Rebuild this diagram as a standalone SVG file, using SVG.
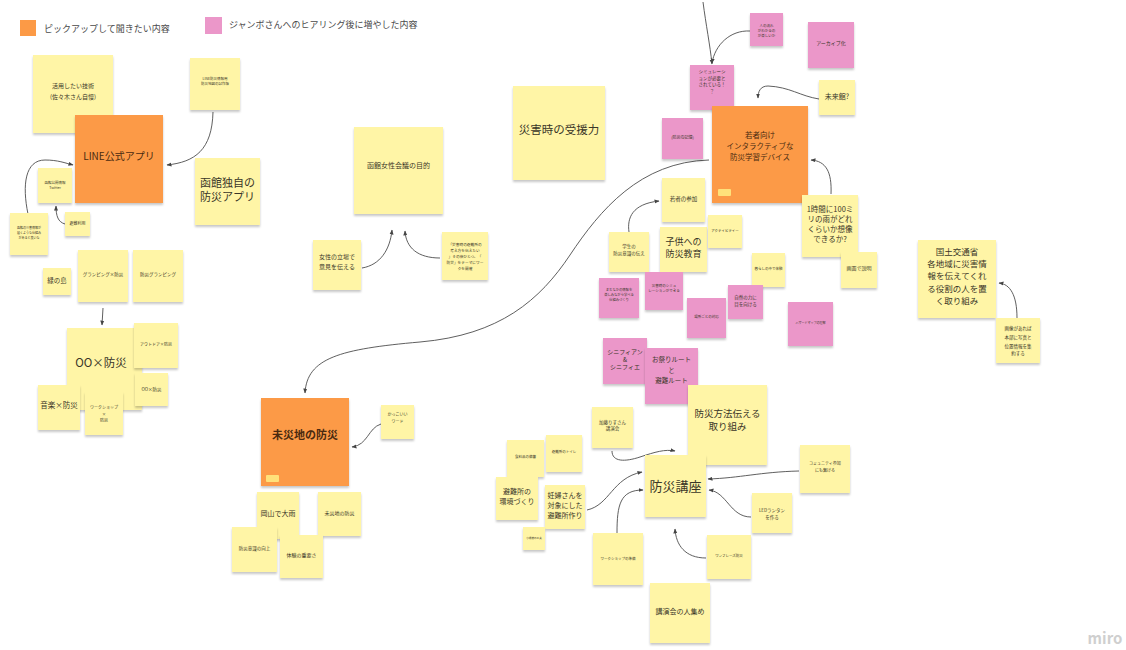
<svg xmlns="http://www.w3.org/2000/svg" width="1126" height="650" viewBox="0 0 1126 650">
<style>
text{font-family:"Noto Sans CJK JP","Noto Sans",sans-serif;fill:#3a3628;text-anchor:middle}
.y{fill:#fff5a6;filter:url(#sh)}
.o{fill:#fc9a46;filter:url(#sh)}
.p{fill:#eb97c9;filter:url(#sh)}
.ot{fill:#4a2a10}
.lg{text-anchor:start;fill:#4a4a4a;font-size:9px}
.c{fill:none;stroke:#4d4d4d;stroke-width:0.9;marker-end:url(#ah)}
.th{fill:#ffe17a}
</style>
<defs>
<filter id="sh" x="-10%" y="-10%" width="120%" height="130%"><feDropShadow dx="0" dy="2" stdDeviation="1.3" flood-color="#000" flood-opacity="0.22"/></filter>
<marker id="ah" viewBox="0 0 10 10" refX="9" refY="5" markerWidth="5" markerHeight="5" markerUnits="userSpaceOnUse" orient="auto"><path d="M0,1 L10,5 L0,9 z" fill="#444"/></marker>
</defs>
<rect width="1126" height="650" fill="#ffffff"/>

<g id="legend">
<rect x="20" y="20" width="16" height="16" fill="#fc9a46"/>
<text class="lg" x="44" y="32">ピックアップして聞きたい内容</text>
<rect x="205" y="17" width="17" height="17" fill="#eb97c9"/>
<text class="lg" x="229" y="28">ジャンボさんへのヒアリング後に増やした内容</text>
</g>

<g id="connectors">
<path class="c" d="M213,112 C212,150 195,162 167,165"/>
<path class="c" d="M28,214 C22,185 25,160 45,160 C58,160 65,163 73,165"/>
<path class="c" d="M65,224 C58,222 56,216 56,206"/>
<path class="c" d="M103,308 L102,325"/>
<path class="c" d="M362,268 C380,265 390,250 392,230"/>
<path class="c" d="M440,258 C418,258 406,248 405,231"/>
<path class="c" d="M709,160 C640,162 600,210 570,255 C540,300 500,335 420,342 C340,349 307,358 305,393"/>
<path class="c" d="M381,424 C368,428 368,445 352,447"/>
<path class="c" d="M703,2 C706,25 710,45 712,64"/>
<path class="c" d="M750,31 C730,30 715,45 712,63"/>
<path class="c" d="M819,99 C800,96 790,87 768,86 C760,86 758,92 758,98"/>
<path class="c" d="M831,194 C832,172 826,161 811,160"/>
<path class="c" d="M629,232 C627,218 632,204 659,201"/>
<path class="c" d="M612,451 C612,462 625,462 640,457 C655,452 665,449 675,451"/>
<path class="c" d="M587,510 C610,505 612,478 642,472"/>
<path class="c" d="M617,533 C617,505 620,490 643,490"/>
<path class="c" d="M799,471 C760,472 740,478 708,479"/>
<path class="c" d="M751,517 C730,517 727,492 709,490"/>
<path class="c" d="M706,558 C685,558 676,545 675,529"/>
<path class="c" d="M1017,318 C1017,295 1010,284 999,283"/>
</g>

<g id="n_katsuyo"><rect class="y" x="33" y="55" width="80" height="78"/><text font-size="6" x="73" y="88">活用したい技術</text><text font-size="6" x="73" y="99">(佐々木さん自慢)</text></g>
<g id="n_line_info"><rect class="y" x="190" y="58" width="50" height="52"/><text font-size="3.5" x="215" y="80">LINE防災情報用</text><text font-size="3.5" x="215" y="85">防災地図の試作版</text></g>
<g id="n_line"><rect class="o" x="75" y="115" width="88" height="88"/><text class="ot" font-size="10" x="119" y="160">LINE公式アプリ</text></g>
<g id="n_hakodate_app"><rect class="y" x="195" y="158" width="65" height="67"/><text font-size="11" x="227.5" y="187">函館独自の</text><text font-size="11" x="227.5" y="201">防災アプリ</text></g>
<g id="n_twitter"><rect class="y" x="38" y="168" width="34" height="35"/><text font-size="3.5" x="55" y="184">函館公開情報</text><text font-size="3.5" x="55" y="189">Twitter</text></g>
<g id="n_small1"><rect class="y" x="10" y="213" width="38" height="42"/><text font-size="3" x="29" y="229">函館の災害情報が</text><text font-size="3" x="29" y="234">届くような仕組み</text><text font-size="3" x="29" y="239">があると良いな</text></g>
<g id="n_hinan"><rect class="y" x="65" y="212" width="25" height="24"/><text font-size="4" x="77.5" y="225">避難利用</text></g>
<g id="n_midori"><rect class="y" x="43" y="268" width="28" height="27"/><text font-size="6.5" x="57" y="283">緑の島</text></g>
<g id="n_glamp1"><rect class="y" x="78" y="250" width="50" height="52"/><text font-size="4.5" x="103" y="276">グランピング×防災</text></g>
<g id="n_glamp2"><rect class="y" x="133" y="250" width="50" height="52"/><text font-size="4.5" x="158" y="276">防災グランピング</text></g>
<g id="n_oo"><rect class="y" x="67" y="328" width="75" height="82"/><text font-size="11.5" x="101" y="367">OO×防災</text></g>
<g id="n_outdoor"><rect class="y" x="134" y="323" width="44" height="45"/><text font-size="4" x="156" y="346">アウトドア×防災</text></g>
<g id="n_oo_small"><rect class="y" x="135" y="373" width="33" height="33"/><text font-size="4.5" x="151.5" y="391">OO×防災</text></g>
<g id="n_ongaku"><rect class="y" x="38" y="385" width="42" height="45"/><text font-size="7.5" x="59" y="408">音楽×防災</text></g>
<g id="n_ws"><rect class="y" x="85" y="392" width="38" height="43"/><text font-size="4" x="104" y="409">ワークショップ</text><text font-size="4" x="104" y="416">×</text><text font-size="4" x="104" y="422">防災</text></g>

<g id="n_mokuteki"><rect class="y" x="354" y="127" width="89" height="87"/><text font-size="7" x="398.5" y="168">函館女性会議の目的</text></g>
<g id="n_juen"><rect class="y" x="513" y="86" width="92" height="94"/><text font-size="11.5" x="559" y="134">災害時の受援力</text></g>
<g id="n_josei"><rect class="y" x="313" y="240" width="48" height="50"/><text font-size="6" x="337" y="259">女性の立場で</text><text font-size="6" x="337" y="269">意見を伝える</text></g>
<g id="n_saigai_q"><rect class="y" x="442" y="232" width="46" height="48"/><text font-size="3.7" x="465" y="246">「災害時の避難所の</text><text font-size="3.7" x="465" y="252">考え方を伝えたい</text><text font-size="3.7" x="465" y="258">」その後ひとつ、「</text><text font-size="3.7" x="465" y="264">防災」をテーマにワー</text><text font-size="3.7" x="465" y="270">クを開催</text></g>

<g id="n_mitai"><rect class="o" x="261" y="398" width="88" height="88"/><text class="ot" font-size="11" font-weight="bold" x="305" y="439">未災地の防災</text><rect class="th" x="266" y="475" width="13" height="7" rx="1"/></g>
<g id="n_kakkoii"><rect class="y" x="381" y="405" width="33" height="34"/><text font-size="4" x="397.5" y="416">かっこいい</text><text font-size="4" x="397.5" y="423">ワード</text></g>
<g id="n_okayama"><rect class="y" x="257" y="492" width="42" height="47"/><text font-size="7" x="278" y="516">岡山で大雨</text></g>
<g id="n_mitai_s"><rect class="y" x="318" y="492" width="43" height="44"/><text font-size="5" x="339.5" y="515">未災地の防災</text></g>
<g id="n_ishiki"><rect class="y" x="232" y="527" width="45" height="45"/><text font-size="4.5" x="254.5" y="550">防災意識の向上</text></g>
<g id="n_taiken"><rect class="y" x="280" y="535" width="43" height="43"/><text font-size="5" x="301.5" y="557">体験の重要さ</text></g>

<g id="n_hito"><rect class="p" x="750" y="13" width="33" height="33"/><text font-size="3.5" x="766.5" y="26.5">人の流れ</text><text font-size="3.5" x="766.5" y="31.5">がわかるの</text><text font-size="3.5" x="766.5" y="36.5">が楽しいか</text></g>
<g id="n_sim"><rect class="p" x="690" y="65" width="44" height="45"/><text font-size="4.5" x="712" y="73">シミュレーシ</text><text font-size="4.5" x="712" y="79.5">ョンが必要と</text><text font-size="4.5" x="712" y="86">されている！</text><text font-size="4.5" x="712" y="92.5">？</text></g>
<g id="n_archive"><rect class="p" x="808" y="22" width="46" height="46"/><text font-size="5" x="831" y="45">アーカイブ化</text></g>
<g id="n_mirai"><rect class="y" x="819" y="80" width="36" height="35"/><text font-size="7" x="837" y="98.5">未来館?</text></g>
<g id="n_kioku"><rect class="p" x="662" y="118" width="41" height="41"/><text font-size="4" x="682.5" y="138.5">(防災の記憶)</text></g>
<g id="n_wakamono"><rect class="o" x="712" y="106" width="96" height="97"/><text class="ot" font-size="7.5" x="760" y="138">若者向け</text><text class="ot" font-size="7.5" x="760" y="149">インタラクティブな</text><text class="ot" font-size="7.5" x="760" y="160">防災学習デバイス</text><rect class="th" x="718" y="189" width="13" height="7" rx="1"/></g>
<g id="n_1jikan"><rect class="y" x="802" y="195" width="56" height="62"/><text font-size="7.5" x="830" y="212">1時間に100ミ</text><text font-size="7.5" x="830" y="222">リの雨がどれ</text><text font-size="7.5" x="830" y="232">くらいか想像</text><text font-size="7.5" x="830" y="242">できるか?</text></g>
<g id="n_sanka"><rect class="y" x="662" y="178" width="43" height="44"/><text font-size="5.5" x="683.5" y="201">若者の参加</text></g>
<g id="n_kodomo"><rect class="y" x="660" y="227" width="47" height="45"/><text font-size="9" x="683.5" y="245">子供への</text><text font-size="9" x="683.5" y="257">防災教育</text></g>
<g id="n_gakusei"><rect class="y" x="609" y="232" width="40" height="40"/><text font-size="4.5" x="629" y="248">学生の</text><text font-size="4.5" x="629" y="255">防災意識の伝え</text></g>
<g id="n_activity"><rect class="y" x="708" y="215" width="34" height="33"/><text font-size="3.5" x="725" y="232">アクティビティー</text></g>
<g id="n_kurashi"><rect class="y" x="752" y="253" width="33" height="34"/><text font-size="3.5" x="768.5" y="270">暮らしの中で体験</text></g>
<g id="n_gamen"><rect class="y" x="841" y="252" width="36" height="36"/><text font-size="5" x="859" y="270">画面で説明</text></g>
<g id="n_pink1"><rect class="p" x="599" y="278" width="40" height="40"/><text font-size="3.3" x="619" y="291">まちなかの情報を</text><text font-size="3.3" x="619" y="296">楽しみながら学べる</text><text font-size="3.3" x="619" y="301">仕組みづくり</text></g>
<g id="n_pink2"><rect class="p" x="645" y="272" width="38" height="38"/><text font-size="3.5" x="664" y="286.5">災害時のシミュ</text><text font-size="3.5" x="664" y="291.5">レーションができる</text></g>
<g id="n_pink3"><rect class="p" x="687" y="298" width="39" height="40"/><text font-size="3.5" x="706.5" y="318">場所ごとの対応</text></g>
<g id="n_pink4"><rect class="p" x="728" y="285" width="35" height="34"/><text font-size="4.5" x="745.5" y="299">自然の力に</text><text font-size="4.5" x="745.5" y="306">目を向ける</text></g>
<g id="n_pink5"><rect class="p" x="788" y="302" width="45" height="44"/><text font-size="3" x="810.5" y="324">ハザードマップの理解</text></g>
<g id="n_signi"><rect class="p" x="603" y="338" width="44" height="46"/><text font-size="6" x="625" y="354">シニフィアン</text><text font-size="6" x="625" y="362">&amp;</text><text font-size="6" x="625" y="369">シニフィエ</text></g>
<g id="n_matsuri"><rect class="p" x="645" y="348" width="53" height="56"/><text font-size="6.5" x="671.5" y="362">お祭りルート</text><text font-size="6.5" x="671.5" y="373">と</text><text font-size="6.5" x="671.5" y="383">避難ルート</text></g>
<g id="n_houhou"><rect class="y" x="688" y="385" width="79" height="80"/><text font-size="9.5" x="727.5" y="417">防災方法伝える</text><text font-size="9.5" x="727.5" y="430">取り組み</text></g>
<g id="n_kato"><rect class="y" x="592" y="407" width="41" height="41"/><text font-size="4.5" x="612.5" y="423.5">加藤りすさん</text><text font-size="4.5" x="612.5" y="430">講演会</text></g>
<g id="n_kouza"><rect class="y" x="645" y="455" width="61" height="62"/><text font-size="13" x="675.5" y="491">防災講座</text></g>
<g id="n_bichiku"><rect class="y" x="507" y="440" width="37" height="37"/><text font-size="3.5" x="525.5" y="458">食料品の備蓄</text></g>
<g id="n_toilet"><rect class="y" x="546" y="435" width="36" height="37"/><text font-size="3.5" x="564" y="453">避難所のトイレ</text></g>
<g id="n_kankyo"><rect class="y" x="496" y="477" width="42" height="43"/><text font-size="7" x="517" y="493.5">避難所の</text><text font-size="7" x="517" y="503.5">環境づくり</text></g>
<g id="n_ninpu"><rect class="y" x="545" y="485" width="40" height="44"/><text font-size="7" x="565" y="497.5">妊婦さんを</text><text font-size="7" x="565" y="507.5">対象にした</text><text font-size="7" x="565" y="517.5">避難所作り</text></g>
<g id="n_kufu"><rect class="y" x="523" y="527" width="22" height="23"/><text font-size="2.6" x="534" y="538.5">小規模の工夫</text></g>
<g id="n_wsjunbi"><rect class="y" x="593" y="533" width="50" height="52"/><text font-size="3.5" x="618" y="560">ワークショップの準備</text></g>
<g id="n_hitoatsume"><rect class="y" x="650" y="583" width="60" height="60"/><text font-size="7" x="680" y="614">講演会の人集め</text></g>
<g id="n_community"><rect class="y" x="800" y="445" width="50" height="48"/><text font-size="4" x="825" y="464.5">コミュニティ参加</text><text font-size="4" x="825" y="472">にも繋げる</text></g>
<g id="n_led"><rect class="y" x="752" y="493" width="40" height="40"/><text font-size="4.5" x="772" y="511.5">LEDランタン</text><text font-size="4.5" x="772" y="518.5">を作る</text></g>
<g id="n_onephrase"><rect class="y" x="707" y="535" width="44" height="44"/><text font-size="3.5" x="729" y="556.5">ワンフレーズ防災</text></g>

<g id="n_kokudo"><rect class="y" x="918" y="240" width="78" height="78"/><text font-size="8.5" x="957" y="255">国土交通省</text><text font-size="8.5" x="957" y="267">各地域に災害情</text><text font-size="8.5" x="957" y="279">報を伝えてくれ</text><text font-size="8.5" x="957" y="292">る役割の人を置</text><text font-size="8.5" x="957" y="304">く取り組み</text></g>
<g id="n_gazou"><rect class="y" x="996" y="318" width="44" height="45"/><text font-size="4.5" x="1018" y="330">画像があれば</text><text font-size="4.5" x="1018" y="339">本部に写真と</text><text font-size="4.5" x="1018" y="347.5">位置情報を集</text><text font-size="4.5" x="1018" y="355">約する</text></g>

<g id="logo"><text x="1105" y="644" font-family="Liberation Sans, sans-serif" font-size="15" font-weight="bold" style="fill:#cfcfcf">miro</text></g>
</svg>
